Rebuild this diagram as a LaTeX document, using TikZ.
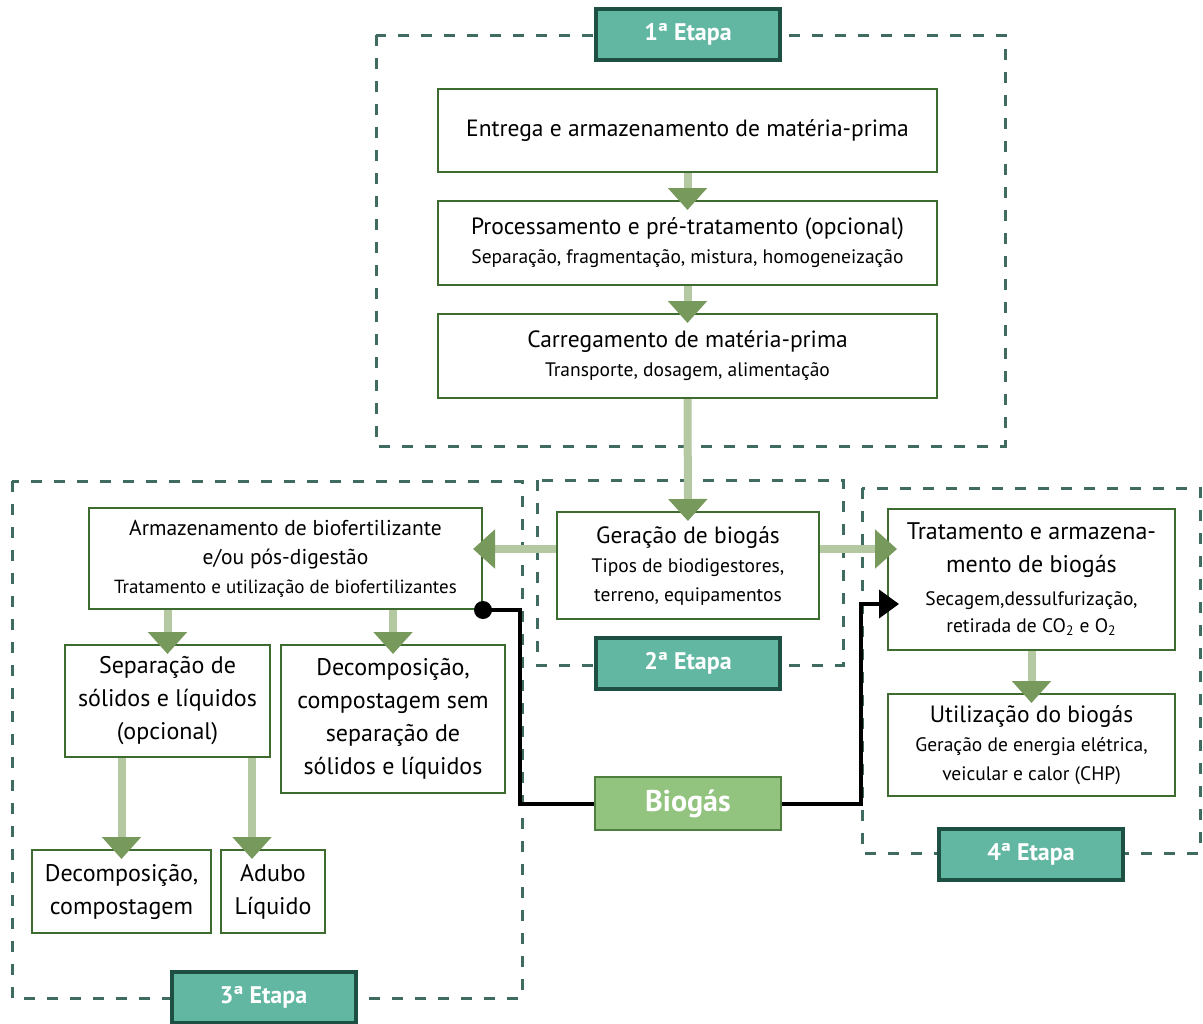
\documentclass[tikz,border=0pt]{standalone}
\usepackage{fontspec}
\setmainfont{PT Sans}
\usetikzlibrary{arrows.meta,positioning}

\definecolor{verdeborda}{HTML}{3E6B2F}
\definecolor{verdeseta}{HTML}{B4C8A2}
\definecolor{verdeponta}{HTML}{779A5C}
\definecolor{tracejado}{HTML}{3F6B60}
\definecolor{etapaverde}{HTML}{62B7A2}
\definecolor{etapaborda}{HTML}{1D4F43}
\definecolor{biogasverde}{HTML}{93C47F}
\definecolor{biogasborda}{HTML}{4E7F3E}

\newcommand{\titulo}{\fontsize{11.75}{14.5}\selectfont}
\newcommand{\subt}{\fontsize{9.75}{13.5}\selectfont}
\newcommand{\grande}{\fontsize{12}{16.5}\selectfont}

\tikzset{
  caixa/.style={draw=verdeborda, line width=1pt, fill=white, align=center, inner sep=1pt, font=\titulo},
  etapa/.style={draw=etapaborda, fill=etapaverde, line width=2pt, text=white,
    font=\bfseries\fontsize{12}{14}\selectfont, minimum width=92pt, minimum height=25.5pt},
  regiao/.style={draw=tracejado, line width=1.5pt, dash pattern=on 5.5pt off 6pt},
  seta/.style={draw=verdeseta, line width=4pt, shorten >=-5pt,
    -{Triangle[width=19pt,length=11pt,color=verdeponta]}},
  linhagas/.style={draw=black, line width=2pt},
}

\begin{document}
\begin{tikzpicture}[x=0.5pt, y=-0.5pt]
  \useasboundingbox (0,0) rectangle (1203,1023);

  % Regioes tracejadas das etapas
  \draw[regiao] (376,35) rectangle (1005,446);
  \draw[regiao] (537,480) rectangle (843,665);
  \draw[regiao] (12,481) rectangle (522,998);
  \draw[regiao] (862,488) rectangle (1200,853);

  % 1a etapa
  \node[caixa, minimum width=249.5pt, minimum height=41.5pt] (entrega) at (687.5,130.5)
    {Entrega e armazenamento de matéria-prima};
  \node[caixa, minimum width=249.5pt, minimum height=42pt] (processo) at (687.5,243)
    {Processamento e pré-tratamento (opcional)\\ \subt Separação, fragmentação, mistura, homogeneização};
  \node[caixa, minimum width=249.5pt, minimum height=42pt] (carga) at (687.5,356)
    {Carregamento de matéria-prima\\ \subt Transporte, dosagem, alimentação};

  % 2a etapa
  \node[caixa, minimum width=131pt, minimum height=53.5pt] (geracao) at (688,565.5)
    {Geração de biogás\\ \subt Tipos de biodigestores,\\ \subt terreno, equipamentos};

  % 3a etapa
  \node[caixa, minimum width=196.5pt, minimum height=50.5pt, font=\fontsize{10.75}{14.5}\selectfont] (armaz) at (285.5,558.5)
    {Armazenamento de biofertilizante\\ e/ou pós-digestão\\ \fontsize{9.5}{13}\selectfont Tratamento e utilização de biofertilizantes};
  \node[caixa, font=\grande, minimum width=102.5pt, minimum height=56pt] (separa) at (167.5,701)
    {Separação de\\ sólidos e líquidos\\ (opcional)};
  \node[caixa, font=\grande, minimum width=112pt, minimum height=74pt] (decomp) at (393,719)
    {Decomposição,\\ compostagem sem\\ separação de\\ sólidos e líquidos};
  \node[caixa, font=\grande, minimum width=89.5pt, minimum height=41.5pt] (compost) at (121.5,891.5)
    {Decomposição,\\ compostagem};
  \node[caixa, font=\grande, minimum width=52pt, minimum height=41.5pt] (adubo) at (273,891.5)
    {Adubo\\ Líquido};

  % 4a etapa
  \node[caixa, font=\grande, minimum width=143.5pt, minimum height=70.5pt] (tratam) at (1031.5,579.5)
    {Tratamento e armazena-\\ mento de biogás\\ \subt Secagem,dessulfurização,\\[-3pt] \subt retirada de CO\textsubscript{2} e O\textsubscript{2}};
  \node[caixa, minimum width=143.5pt, minimum height=51pt] (utiliza) at (1031.5,745)
    {Utilização do biogás\\ \subt Geração de energia elétrica,\\ \subt veicular e calor (CHP)};

  % Setas verdes
  \coordinate (nivel) at (0,549);
  \draw[seta] (entrega) -- (processo);
  \draw[seta] (processo) -- (carga);
  \draw[seta] (carga) -- (geracao);
  \draw[seta] (geracao.west |- nivel) -- (armaz.east |- nivel);
  \draw[seta] (geracao.east |- nivel) -- (tratam.west |- nivel);
  \draw[seta] (armaz.south -| separa.north) -- (separa.north);
  \draw[seta] (armaz.south -| decomp.north) -- (decomp.north);
  \draw[seta] (separa.south -| compost.north) -- (compost.north);
  \draw[seta] ([xshift=-10.5pt]separa.south -| adubo.north) -- ([xshift=-10.5pt]adubo.north);
  \draw[seta] (tratam) -- (utiliza);

  % Linha do biogas
  \node[draw=biogasborda, fill=biogasverde, line width=1.2pt, text=white,
    font=\bfseries\fontsize{15}{17}\selectfont, minimum width=93pt, minimum height=26.5pt] (biogas) at (688,803.5) {Biogás};
  \draw[linhagas] (armaz.south east) -| ([xshift=-37pt]biogas.west) -- (biogas.west);
  \draw[linhagas, -{Triangle[width=14pt,length=10pt]}, shorten >=-6pt]
    (biogas.east) -| ([xshift=-13pt,yshift=-12.25pt]tratam.west) -- ([yshift=-12.25pt]tratam.west);
  \fill (armaz.south east) circle (4.5pt);

  % Rotulos das etapas
  \node[etapa] (etapa1) at (688,34) {1ª Etapa};
  \node[etapa] (etapa2) at (688,663) {2ª Etapa};
  \node[etapa] (etapa3) at (263.5,997.5) {3ª Etapa};
  \node[etapa] (etapa4) at (1031,854) {4ª Etapa};
\end{tikzpicture}
\end{document}
